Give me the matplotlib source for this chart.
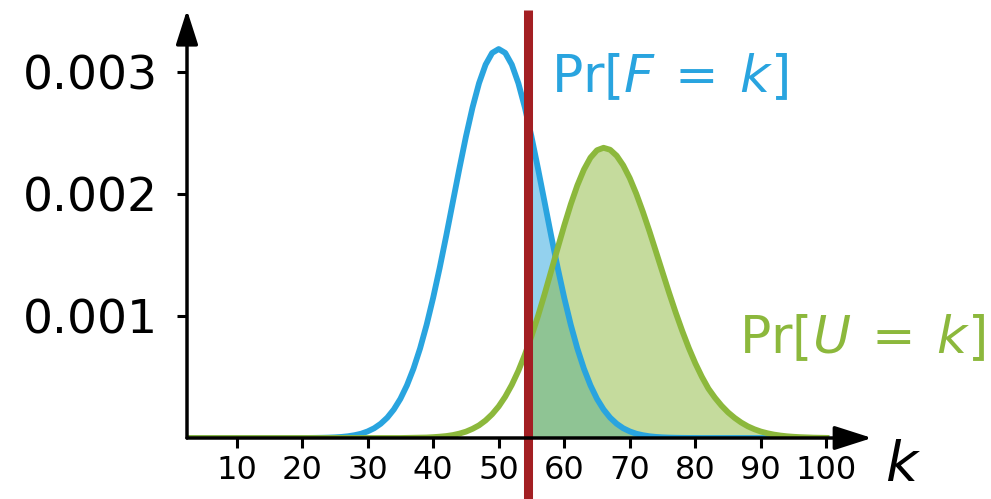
import numpy as np
import matplotlib
matplotlib.use("Agg")
import matplotlib.pyplot as plt

# valores (em unidades de 0.001), k = 1..100
k = np.arange(1, 101)
pr_f_milli = [
    0, 0, 0, 0, 0, 0, 0, 0, 0, 0,
    0, 0, 0, 0, 0, 0, 0, 0, 0, 0.0003,
    0.0006, 0.0011, 0.0019, 0.0032, 0.0054, 0.0089, 0.0144, 0.023, 0.035, 0.054,
    0.080, 0.117, 0.167, 0.234, 0.321, 0.432, 0.569, 0.734, 0.928, 1.150,
    1.396, 1.660, 1.935, 2.209, 2.472, 2.709, 2.910, 3.062, 3.158, 3.190,
    3.158, 3.062, 2.910, 2.709, 2.472, 2.209, 1.935, 1.660, 1.396, 1.150,
    0.928, 0.734, 0.569, 0.432, 0.321, 0.234, 0.167, 0.117, 0.080, 0.054,
    0.035, 0.023, 0.0144, 0.0089, 0.0054, 0.0032, 0.0019, 0.0011, 0.0006, 0.0003,
    0, 0, 0, 0, 0, 0, 0, 0, 0, 0,
    0, 0, 0, 0, 0, 0, 0, 0, 0, 0,
]
pr_u_milli = [
    0, 0, 0, 0, 0, 0, 0, 0, 0, 0,
    0, 0, 0, 0, 0, 0, 0, 0, 0, 0,
    0, 0, 0, 0, 0, 0, 0, 0, 0, 0,
    0, 0, 0, 0, 0, 0.001, 0.002, 0.003, 0.004, 0.007,
    0.011, 0.016, 0.024, 0.036, 0.052, 0.075, 0.104, 0.144, 0.195, 0.259,
    0.339, 0.436, 0.551, 0.684, 0.835, 1.001, 1.180, 1.368, 1.557, 1.743,
    1.917, 2.072, 2.201, 2.299, 2.360, 2.380, 2.364, 2.315, 2.236, 2.131,
    2.002, 1.855, 1.696, 1.528, 1.359, 1.191, 1.030, 0.879, 0.739, 0.613,
    0.502, 0.405, 0.330, 0.265, 0.210, 0.165, 0.127, 0.096, 0.072, 0.053,
    0.039, 0.028, 0.020, 0.014, 0.010, 0.007, 0.005, 0.003, 0.002, 0.001,
]
pr_f = np.array(pr_f_milli) * 1e-3
pr_u = np.array(pr_u_milli) * 1e-3

corte = 54.5  # linha vermelha
xticks = [10, 20, 30, 40, 50, 60, 70, 80, 90, 100]
yticks = [0.001, 0.002, 0.003]
ylabels = ['0.001', '0.002', '0.003']

azul = '#29a4df'
verde = '#8cb83c'
vermelho = '#a31f23'

plt.rcParams['font.family'] = 'DejaVu Sans'
plt.rcParams['mathtext.fontset'] = 'dejavusans'

fig = plt.figure(figsize=(9.91, 4.99), dpi=100)
ax = fig.add_axes([187 / 991, 61 / 499, 685 / 991, 428 / 499])
ax.set_xlim(2.44, 106.96)
ax.set_ylim(0, 0.00351)

# areas a direita do corte
sel = k >= np.floor(corte)
ax.fill_between(k, 0, pr_f, where=sel, color=azul, alpha=0.5, lw=0, zorder=1)
ax.fill_between(k, 0, pr_u, where=sel, color=verde, alpha=0.5, lw=0, zorder=2)

ax.plot(k, pr_f, color=azul, lw=4.2, zorder=3)
ax.plot(k, pr_u, color=verde, lw=4.2, zorder=4)

ax.plot([corte, corte], [-0.0005, 0.00351], color=vermelho, lw=6.5,
        clip_on=False, zorder=5, solid_capstyle='butt')

# eixos com setas
for s in ax.spines.values():
    s.set_visible(False)
seta = dict(arrowstyle='-|>,head_length=1.0,head_width=0.32', lw=2.5,
            color='black', shrinkA=0, shrinkB=0, mutation_scale=23)
ax.annotate('', xy=(1, 0), xytext=(0, 0), xycoords='axes fraction',
            arrowprops=seta, zorder=6, annotation_clip=False)
seta2 = dict(seta, mutation_scale=21)
ax.annotate('', xy=(0, 1), xytext=(0, 0), xycoords='axes fraction',
            arrowprops=seta2, zorder=6, annotation_clip=False)

ax.set_xticks(xticks)
ax.set_xticklabels([str(t) for t in xticks], fontsize=23)
ax.set_yticks(yticks)
ax.set_yticklabels(ylabels, fontsize=34)
ax.tick_params(axis='x', direction='out', length=7, width=2.2, pad=5)
ax.tick_params(axis='y', direction='out', length=7, width=2.2, pad=14)

fig.text(885 / 991, 1 - 481 / 499, '$k$', fontsize=40, va='baseline')
fig.text(551 / 991, 1 - 92 / 499, r'$\mathrm{Pr}[F\:=\:k]$', fontsize=37.5,
         color=azul, va='baseline')
fig.text(739 / 991, 1 - 353 / 499, r'$\mathrm{Pr}[U\:=\:k]$', fontsize=37.5,
         color=verde, va='baseline')

plt.savefig('out.png', dpi=100)
